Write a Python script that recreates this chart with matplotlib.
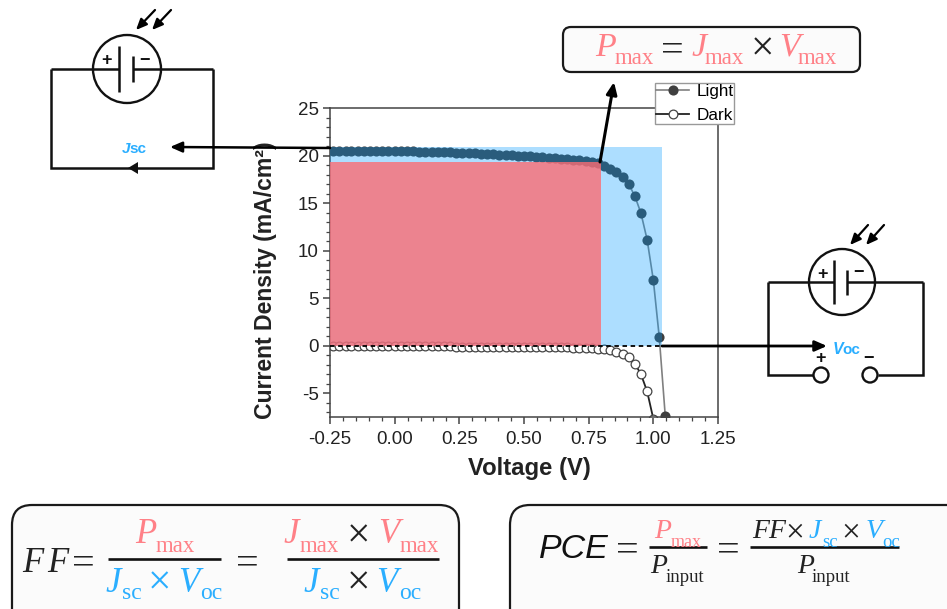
import matplotlib
matplotlib.use("Agg")
import matplotlib.pyplot as plt
from matplotlib.patches import FancyBboxPatch, Circle, Polygon
from matplotlib.ticker import MultipleLocator, FormatStrFormatter

plt.rcParams['font.family'] = ['Liberation Sans', 'DejaVu Sans']
plt.rcParams['axes.unicode_minus'] = False

voltage = [-0.238, -0.214, -0.190, -0.167, -0.143, -0.119, -0.095, -0.071, -0.048, -0.024,
           0.000, 0.024, 0.048, 0.071, 0.095, 0.119, 0.143, 0.167, 0.190, 0.214,
           0.238, 0.262, 0.286, 0.310, 0.333, 0.357, 0.381, 0.405, 0.429, 0.452,
           0.476, 0.500, 0.524, 0.548, 0.571, 0.595, 0.619, 0.643, 0.667, 0.690,
           0.714, 0.738, 0.762, 0.786, 0.810, 0.833, 0.857, 0.881, 0.905, 0.929,
           0.952, 0.976, 1.000, 1.023, 1.046]
light = [20.52, 20.52, 20.51, 20.50, 20.50, 20.50, 20.50, 20.49, 20.48, 20.47,
         20.46, 20.45, 20.44, 20.43, 20.42, 20.41, 20.40, 20.38, 20.36, 20.33,
         20.30, 20.27, 20.25, 20.22, 20.19, 20.16, 20.13, 20.10, 20.07, 20.03,
         19.99, 19.95, 19.90, 19.86, 19.81, 19.77, 19.72, 19.67, 19.62, 19.56,
         19.50, 19.43, 19.34, 19.24, 18.90, 18.60, 18.25, 17.75, 17.00, 15.70,
         13.95, 11.15, 6.90, 0.87, -7.35]
dark_v = voltage[:-1]
dark = [-0.08, -0.08, -0.08, -0.08, -0.08, -0.08, -0.08, -0.08, -0.08, -0.08,
        -0.08, -0.08, -0.08, -0.08, -0.08, -0.08, -0.08, -0.08, -0.08, -0.08,
        -0.09, -0.09, -0.09, -0.09, -0.09, -0.09, -0.10, -0.10, -0.10, -0.11,
        -0.11, -0.12, -0.12, -0.13, -0.13, -0.14, -0.15, -0.16, -0.18, -0.20,
        -0.22, -0.25, -0.28, -0.32, -0.38, -0.50, -0.66, -0.84, -1.20, -1.90,
        -3.00, -4.80, -7.70, -12.0]
jsc, voc = 20.87, 1.033
jmax, vmax = 19.34, 0.797
x_ticks = [-0.25, 0.0, 0.25, 0.5, 0.75, 1.0, 1.25]
y_ticks = [-5, 0, 5, 10, 15, 20, 25]

W, H = 947, 609
PINK, BLUE = '#FF8087', '#2AAEFF'
fig = plt.figure(figsize=(W / 100, H / 100), dpi=100, facecolor='white')
L, R, T, B = 330, 718, 108, 417
ax = fig.add_axes([L / W, 1 - B / H, (R - L) / W, (B - T) / H])
ax.set_xlim(-0.25, 1.25)
ax.set_ylim(-7.5, 25)
ax.plot(voltage, light, '-o', color='#808080', lw=1.2, ms=7.3, mew=0, mfc='#3F3F3F', label='Light', zorder=2)
ax.plot(dark_v, dark, '-o', color='#222222', lw=1.3, ms=6.3, mfc='white', mec='#444444', mew=0.9, label='Dark', zorder=2)
ax.fill_between([-0.25, voc], 0, jsc, color='#009BFF', alpha=0.32, lw=0, zorder=3)
ax.fill_between([-0.25, vmax], 0, jmax, color='#FC6C73', alpha=0.8, lw=0, zorder=4)
ax.plot([-0.25, voc], [0, 0], color='black', lw=1.3, ls=(0, (2.5, 2)), zorder=5)
ax.set_xticks(x_ticks)
ax.set_yticks(y_ticks)
ax.xaxis.set_major_formatter(FormatStrFormatter('%.2f'))
ax.xaxis.set_minor_locator(MultipleLocator(0.05))
ax.yaxis.set_minor_locator(MultipleLocator(1))
ax.tick_params(which='major', direction='out', length=5, width=1.1, labelsize=13.5, color='#444444', labelcolor='#222222', pad=3)
ax.tick_params(axis='x', which='major', pad=5)
ax.tick_params(which='minor', direction='out', length=3, width=0.9, color='#444444')
for s in ax.spines.values():
    s.set_linewidth(1.1)
    s.set_color('#444444')
ax.set_xlabel('Voltage (V)', fontsize=17.2, fontweight='bold', color='#222222')
ax.xaxis.set_label_coords((529 - L) / (R - L), 1 - (468 - T) / (B - T), transform=ax.transAxes)
ax.xaxis.label.set_va('center')
ax.set_ylabel('Current Density (mA/cm²)', fontsize=16.6, fontweight='bold', color='#222222')
ax.yaxis.set_label_coords((265 - L) / (R - L), 1 - (280 - T) / (B - T), transform=ax.transAxes)
ax.yaxis.label.set_va('center')
leg = ax.legend(loc='upper left', bbox_to_anchor=((655 - L) / (R - L), 1 + (T - 83) / (B - T)),
                borderaxespad=0, fontsize=12.3, frameon=True, fancybox=False, framealpha=1,
                edgecolor='#999999', borderpad=0.06, labelspacing=0.55, handlelength=1.95,
                handletextpad=0.4, markerscale=1.0)
leg.set_zorder(20)
leg.get_frame().set_linewidth(1.0)

o = fig.add_axes([0, 0, 1, 1], zorder=10)
o.set_xlim(0, W)
o.set_ylim(H, 0)
o.axis('off')
o.patch.set_alpha(0)


def line(xs, ys, lw=1.8, color='#111111'):
    o.plot(xs, ys, color=color, lw=lw, solid_capstyle='butt', solid_joinstyle='miter', zorder=5)


def arrow(x0, y0, x1, y1, lw=1.8, head=10):
    o.annotate('', xy=(x1, y1), xytext=(x0, y0),
               arrowprops=dict(arrowstyle=f'-|>,head_length={head / 14},head_width={head / 32}',
                               color='black', lw=lw, shrinkA=0, shrinkB=0), zorder=6)


def cell(cx, cy, r, left, right, long_x, short_x, long_dy, short_dy, plus, minus, rays):
    o.add_patch(Circle((cx, cy), r, fc='none', ec='#111111', lw=1.7, zorder=5))
    line([left, long_x], [cy, cy])
    line([short_x, right], [cy, cy])
    line([long_x, long_x], [cy - long_dy, cy + long_dy])
    line([short_x, short_x], [cy - short_dy, cy + short_dy])
    o.text(*plus, '+', fontsize=13, fontweight='bold', ha='center', va='center', color='#111111')
    o.text(*minus, '−', fontsize=13, fontweight='bold', ha='center', va='center', color='#111111')
    for r0 in rays:
        arrow(*r0, lw=1.6, head=9)


def t(x, y, s, size, color='#222222', style='italic', family='Liberation Serif', weight='normal', ha='left'):
    o.text(x, y, s, fontsize=size, color=color, style=style, family=family, weight=weight,
           ha=ha, va='baseline', zorder=7)


def op(x, y, s, size, color='#222222'):
    t(x, y, s, size, color, 'normal', ha='center')


def box(x0, y0, x1, y1, r):
    o.add_patch(FancyBboxPatch((x0 + r, y0 + r), x1 - x0 - 2 * r, y1 - y0 - 2 * r,
                               boxstyle=f'round,pad={r},rounding_size={r}', fc='#FBFBFB',
                               ec='#1A1A1A', lw=1.6, zorder=1, clip_on=True))


# short-circuit diagram
line([51, 51, 213, 213], [69, 168, 168, 69])
cell(127, 69, 34, 51, 213, 118.5, 132.5, 23, 13, (107, 61), (145, 60),
     [(155, 10, 136, 30), (171, 10, 152, 30)])
o.add_patch(Polygon([[128, 168], [138, 162], [138, 174]], closed=True, fc='#111111', ec='none', zorder=6))
t(122, 153, 'J', 11, BLUE, 'italic', 'Liberation Sans', 'bold')
t(129, 153, 'sc', 11, BLUE, 'normal', 'Liberation Sans', 'bold')
arrow(330, 148, 170, 147, lw=1.8, head=10)

# open-circuit diagram
line([813, 768, 768], [375, 375, 282])
line([878, 923, 923], [375, 375, 282])
cell(842, 282, 33, 768, 923, 834, 847, 22, 12.5, (822, 274), (859, 272),
     [(868, 225, 850, 245), (884, 225, 866, 245)])
o.add_patch(Circle((821, 375), 7.5, fc='white', ec='#111111', lw=1.7, zorder=6))
o.add_patch(Circle((870, 375), 7.5, fc='white', ec='#111111', lw=1.7, zorder=6))
o.text(820, 359, '+', fontsize=13, fontweight='bold', ha='center', va='center', color='#111111')
o.text(869, 359, '−', fontsize=13, fontweight='bold', ha='center', va='center', color='#111111')
t(833, 354, 'V', 11.5, BLUE, 'italic', 'Liberation Sans', 'bold')
t(842, 354, 'oc', 11, BLUE, 'normal', 'Liberation Sans', 'bold')
arrow(662, 346, 827, 346, lw=2.0, head=10)
arrow(600, 162, 614, 82, lw=2.2, head=10)

# P max box
box(563, 27, 860, 72, 8)
t(595, 56, 'P', 24.5, PINK)
t(615, 64, 'max', 16.5, PINK, 'normal')
op(672, 61.5, '=', 29)
t(691, 56, 'J', 24.5, PINK)
t(705, 64, 'max', 16.5, PINK, 'normal')
op(762, 60.5, '×', 30)
t(779, 56, 'V', 24.5, PINK)
t(798, 64, 'max', 16.5, PINK, 'normal')

# fill factor box
box(12, 505, 459, 640, 20)
t(22, 572, 'F', 25)
t(47, 572, 'F', 25)
op(83, 574.5, '=', 29)
line([108, 221], [559, 559], lw=1.9)
t(135, 543, 'P', 25, PINK)
t(156, 552, 'max', 16.5, PINK, 'normal')
t(105, 592, 'J', 25, BLUE)
t(122, 599, 'sc', 17, BLUE, 'normal')
op(159, 594.5, '×', 30, BLUE)
t(178, 592, 'V', 25, BLUE)
t(200, 599, 'oc', 17, BLUE, 'normal')
op(247, 574.5, '=', 29)
line([287, 439], [559, 559], lw=1.9)
t(283, 543, 'J', 25, PINK)
t(300, 552, 'max', 16.5, PINK, 'normal')
op(358, 547.5, '×', 30)
t(378, 543, 'V', 25, PINK)
t(400, 552, 'max', 16.5, PINK, 'normal')
t(303, 592, 'J', 25, BLUE)
t(320, 599, 'sc', 17, BLUE, 'normal')
op(358, 594.5, '×', 30)
t(376, 592, 'V', 25, BLUE)
t(399, 599, 'oc', 17, BLUE, 'normal')

# PCE box
box(510, 505, 990, 640, 20)
t(539, 558, 'PCE', 24.5, '#111111', 'italic', 'Liberation Sans')
op(627, 561.5, '=', 29)
line([649, 707], [547, 547], lw=1.9)
t(654, 538, 'P', 20, PINK)
t(671, 547, 'max', 13, PINK, 'normal')
t(650, 573, 'P', 20)
t(666, 582, 'input', 13.5, '#222222', 'normal')
op(728, 561.5, '=', 29)
line([750, 899], [547, 547], lw=1.9)
t(752, 538, 'F', 20)
t(768, 538, 'F', 20)
op(795, 541, '×', 24)
t(809, 538, 'J', 20, BLUE)
t(822, 547, 'sc', 13.5, BLUE, 'normal')
op(851, 541, '×', 24)
t(866, 538, 'V', 20, BLUE)
t(882, 547, 'oc', 13.5, BLUE, 'normal')
t(797, 573, 'P', 20)
t(812, 582, 'input', 13.5, '#222222', 'normal')

fig.savefig('out.png', dpi=100, facecolor='white')
